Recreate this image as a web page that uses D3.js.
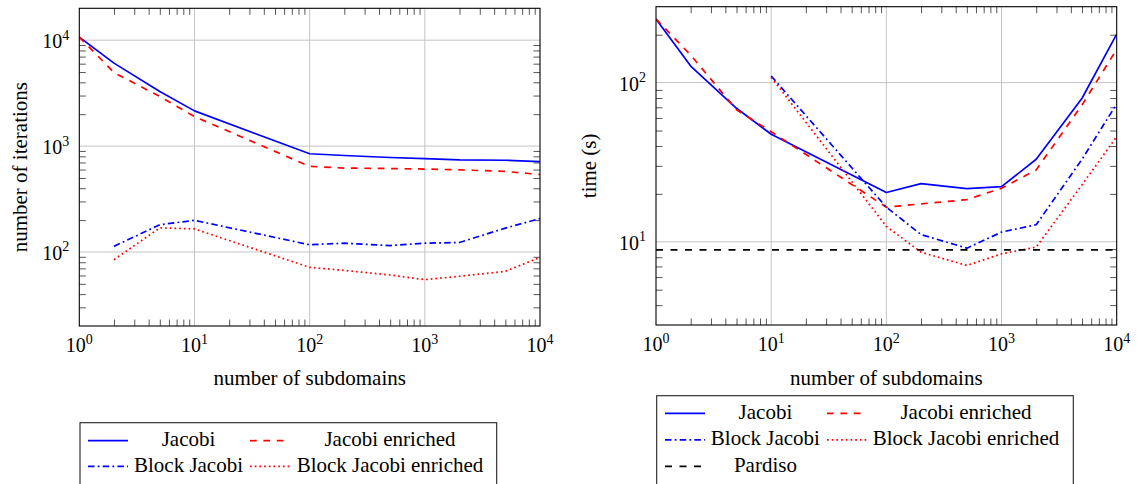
<!DOCTYPE html>
<html><head><meta charset="utf-8">
<script src="https://cdn.jsdelivr.net/npm/d3@7"></script>
<style>
html,body{margin:0;padding:0;background:#fff;}
svg text{font-family:"Liberation Serif","DejaVu Serif",serif;fill:#000;}
</style></head>
<body>
<svg id="c" width="1137" height="484"></svg>
<script>
// ---------- data ----------
const subdomains = [1, 2, 5, 10, 100, 200, 500, 1000, 2000, 5000, 10000];
// left: number of iterations
const itJacobi      = [10700, 6070, 3280, 2150, 846, 815, 780, 760, 740, 735, 712];
const itJacobiEnr   = [10700, 4950, 2940, 1900, 643, 620, 614, 607, 597, 576, 539];
const itBlock       = [null, 113, 181, 199, 117, 121, 115, 121, 123, 168, 207];
const itBlockEnr    = [null, 84.5, 169, 165, 71.6, 67, 60.6, 54.8, 58.9, 65.6, 88.9];
// right: time (s)
const tJacobi       = [251, 127, 69, 47.4, 20.4, 23.2, 21.6, 22.2, 33, 79.8, 202];
const tJacobiEnr    = [251, 149, 67.5, 49.2, 16.5, 17.3, 18.4, 21.7, 28.3, 72.4, 162];
const tBlock        = [null, null, null, 110, 16.5, 11.1, 9.12, 11.5, 12.8, 33, 73.5];
const tBlockEnr     = [null, null, null, 108, 12.5, 8.6, 7.1, 8.4, 9.26, 22.8, 45.8];
const pardisoX      = [1, 10000];
const pardisoT      = [8.9, 8.9];
const xDomain = [1, 10000];
const yItDomain = [20, 20000];
const yTDomain = [3, 300];
const xLabel = "number of subdomains";
const yItLabel = "number of iterations";
const yTLabel = "time (s)";
const namesLeft = ["Jacobi", "Jacobi enriched", "Block Jacobi", "Block Jacobi enriched"];
const namesRight = ["Jacobi", "Jacobi enriched", "Block Jacobi", "Block Jacobi enriched", "Pardiso"];

// ---------- styles ----------
const ST = {
  "Jacobi": {color:"#0000ff", dash:null},
  "Jacobi enriched": {color:"#ff0000", dash:"6.7,6.7"},
  "Block Jacobi": {color:"#0000ff", dash:"6.5,3.2,1.8,3.2"},
  "Block Jacobi enriched": {color:"#ff0000", dash:"1.7,3"},
  "Pardiso": {color:"#000000", dash:"7,7.5"}
};
const LW = 1.7;
const FS = "21px";
const svg = d3.select("#c");

function panel(box, yDomain, series, ylab, ylabX) {
  const x = d3.scaleLog().domain(xDomain).range([box.x0, box.x1]);
  const y = d3.scaleLog().domain(yDomain).range([box.y1, box.y0]);
  const g = svg.append("g");
  const isMajor = v => Math.abs(Math.log10(v) - Math.round(Math.log10(v))) < 1e-9;
  const xt = x.ticks(), yt = y.ticks();
  const xMaj = xt.filter(isMajor), yMaj = yt.filter(isMajor);
  const xMin = xt.filter(v => !isMajor(v) && v < xDomain[1]), yMin = yt.filter(v => !isMajor(v) && v < yDomain[1] && v > yDomain[0]);
  // grid
  g.append("g").selectAll("line").data(xMaj.filter(v=>v>xDomain[0]&&v<xDomain[1])).join("line")
    .attr("x1", d=>x(d)).attr("x2", d=>x(d)).attr("y1", box.y0).attr("y2", box.y1)
    .attr("stroke", "#c4c4c4").attr("stroke-width", 1);
  g.append("g").selectAll("line").data(yMaj).join("line")
    .attr("y1", d=>y(d)).attr("y2", d=>y(d)).attr("x1", box.x0).attr("x2", box.x1)
    .attr("stroke", "#c4c4c4").attr("stroke-width", 1);
  // minor ticks (inward, all four sides) via d3 axes
  const tk = 6.5;
  const ax = [
    [d3.axisBottom(x).tickValues(xMin).tickSize(tk), `translate(0,${box.y1}) scale(1,-1)`],
    [d3.axisTop(x).tickValues(xMin).tickSize(tk), `translate(0,${box.y0}) scale(1,-1)`],
    [d3.axisLeft(y).tickValues(yMin).tickSize(tk), `translate(${box.x0},0) scale(-1,1)`],
    [d3.axisRight(y).tickValues(yMin).tickSize(tk), `translate(${box.x1},0) scale(-1,1)`]
  ];
  ax.forEach(([a, tr]) => {
    const ag = g.append("g").attr("transform", tr).call(a.tickFormat(""));
    ag.select(".domain").remove();
    ag.selectAll("line").attr("stroke", "#444").attr("stroke-width", 0.9);
  });
  // tick labels
  xMaj.forEach(v => {
    const t = g.append("text").attr("x", x(v)).attr("y", box.y1 + 26).attr("text-anchor", "middle").style("font-size", "20px");
    t.append("tspan").text("10");
    t.append("tspan").attr("dy", -8.5).style("font-size", "14px").text(Math.round(Math.log10(v)));
  });
  yMaj.forEach(v => {
    const t = g.append("text").attr("x", box.x0 - 10).attr("y", y(v) + 8).attr("text-anchor", "end").style("font-size", "20px");
    t.append("tspan").text("10");
    t.append("tspan").attr("dy", -8.5).style("font-size", "14px").text(Math.round(Math.log10(v)));
  });
  // lines
  const clipId = "clip" + Math.round(box.x0);
  svg.append("clipPath").attr("id", clipId).append("rect")
    .attr("x", box.x0).attr("y", box.y0).attr("width", box.x1 - box.x0).attr("height", box.y1 - box.y0);
  const lg = g.append("g").attr("clip-path", `url(#${clipId})`);
  series.forEach(s => {
    const pts = s.xs.map((xv, i) => [xv, s.ys[i]]);
    const line = d3.line().defined(d => d[1] != null).x(d => x(d[0])).y(d => y(d[1]));
    lg.append("path").attr("d", line(pts)).attr("fill", "none")
      .attr("stroke", ST[s.name].color).attr("stroke-width", LW)
      .attr("stroke-dasharray", ST[s.name].dash).attr("stroke-linejoin", "round");
  });
  // frame
  g.append("rect").attr("x", box.x0).attr("y", box.y0).attr("width", box.x1 - box.x0).attr("height", box.y1 - box.y0)
    .attr("fill", "none").attr("stroke", "#000").attr("stroke-width", 1.1);
  // axis labels
  g.append("text").attr("x", (box.x0 + box.x1) / 2).attr("y", 385).attr("text-anchor", "middle").style("font-size", FS).text(xLabel);
  g.append("text").attr("transform", `translate(${ylabX},${(box.y0 + box.y1) / 2}) rotate(-90)`)
    .attr("text-anchor", "middle").style("font-size", FS).text(ylab);
}

panel({x0:79.3, x1:540, y0:8.3, y1:326}, yItDomain, [
  {name:namesLeft[0], xs:subdomains, ys:itJacobi},
  {name:namesLeft[1], xs:subdomains, ys:itJacobiEnr},
  {name:namesLeft[2], xs:subdomains, ys:itBlock},
  {name:namesLeft[3], xs:subdomains, ys:itBlockEnr}
], yItLabel, 26.5);

panel({x0:656, x1:1116.7, y0:6.7, y1:325}, yTDomain, [
  {name:namesRight[0], xs:subdomains, ys:tJacobi},
  {name:namesRight[1], xs:subdomains, ys:tJacobiEnr},
  {name:namesRight[2], xs:subdomains, ys:tBlock},
  {name:namesRight[3], xs:subdomains, ys:tBlockEnr},
  {name:namesRight[4], xs:pardisoX, ys:pardisoT}
], yTLabel, 596);

// ---------- legends ----------
function legend(box, cols, rows, names) {
  const g = svg.append("g");
  g.append("rect").attr("x", box.x).attr("y", box.y).attr("width", box.w).attr("height", box.h)
    .attr("fill", "#fff").attr("stroke", "#222").attr("stroke-width", 1.1);
  names.forEach((n, i) => {
    const c = cols[i % 2], r = rows[Math.floor(i / 2)];
    g.append("line").attr("x1", c.s0).attr("x2", c.s1).attr("y1", r).attr("y2", r)
      .attr("stroke", ST[n].color).attr("stroke-width", LW).attr("stroke-dasharray", ST[n].dash);
    g.append("text").attr("x", c.tc).attr("y", r + 5.5).attr("text-anchor", "middle").style("font-size", FS).text(n);
  });
}
legend({x:80, y:422.7, w:416.7, h:80},
  [{s0:88, s1:128, tc:188.5}, {s0:250, s1:290, tc:390}], [440.7, 466.3], namesLeft);
legend({x:656.7, y:395.7, w:416.6, h:100},
  [{s0:665, s1:705, tc:765.4}, {s0:827, s1:867, tc:966}], [413.3, 439.8, 466.3], namesRight);
</script>
</body></html>
